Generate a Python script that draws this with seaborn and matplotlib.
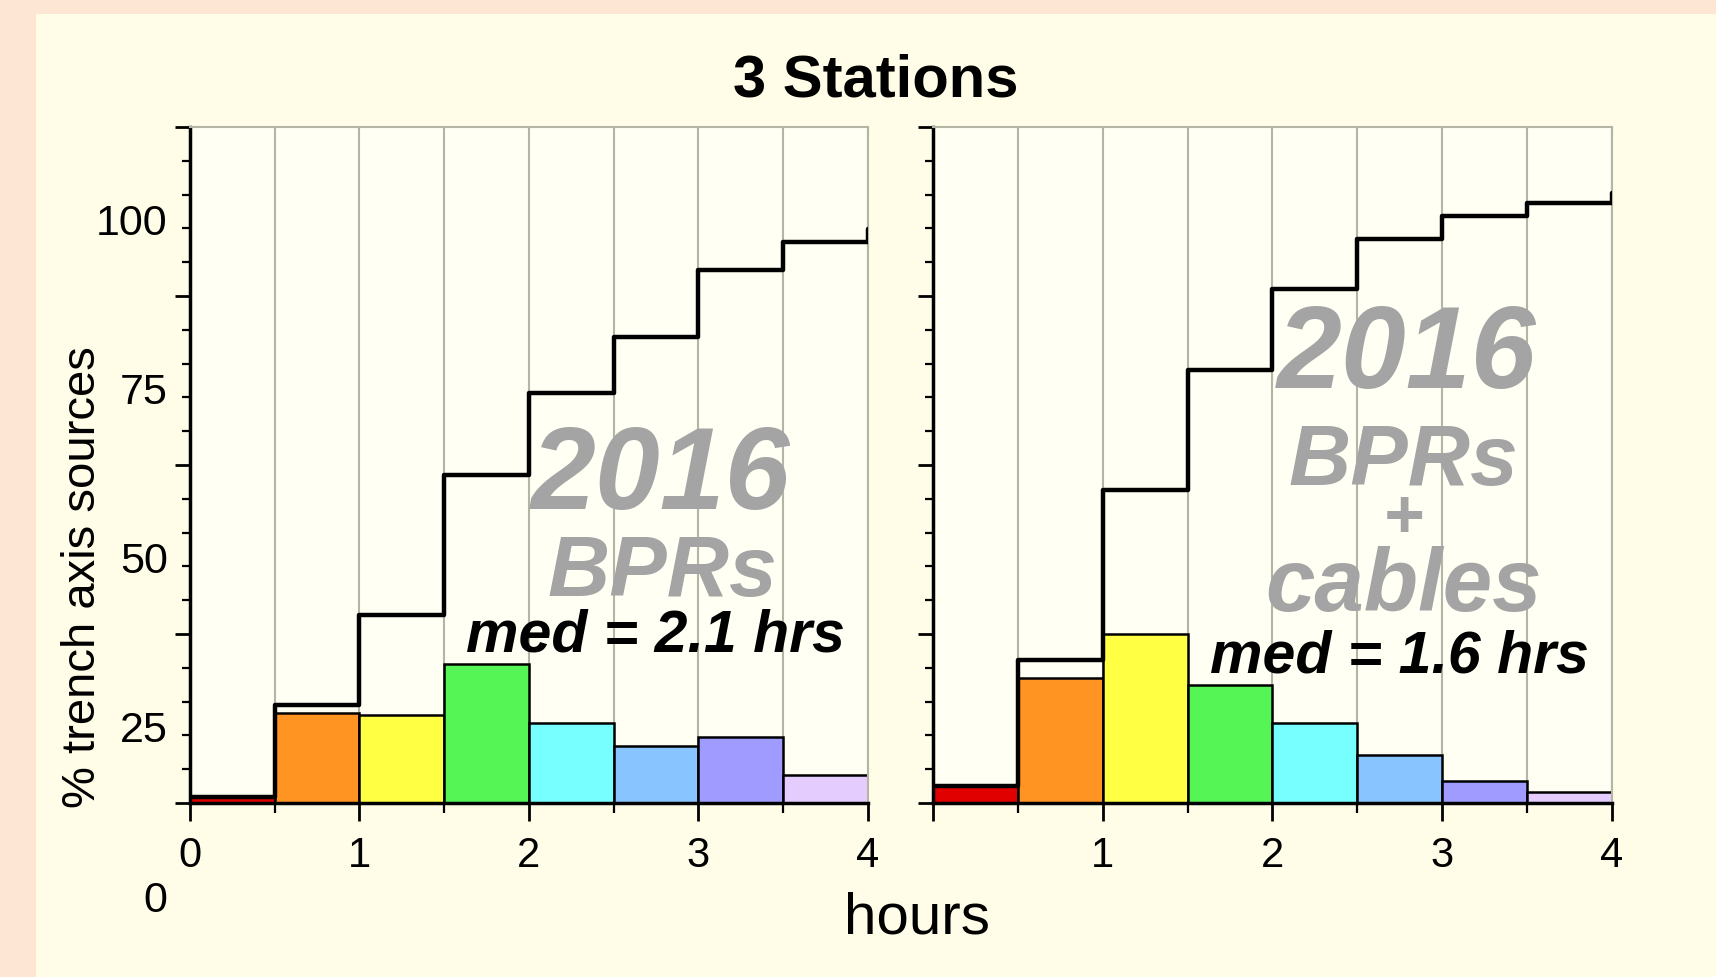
import numpy as np
import matplotlib
matplotlib.use('Agg')
import matplotlib.pyplot as plt
from matplotlib.patches import Rectangle
from matplotlib.ticker import FixedLocator, MultipleLocator, NullFormatter
import seaborn as sns

# %%
# Histogram bins (hours) and bar colours
bin_edges = [0, 0.5, 1, 1.5, 2, 2.5, 3, 3.5, 4]
bin_centers = [0.25, 0.75, 1.25, 1.75, 2.25, 2.75, 3.25, 3.75]
bar_colors = ['#e00000', '#ff9422', '#ffff44', '#55f555',
              '#77ffff', '#88c4ff', '#a09cff', '#e4ccff']

# Left panel: 2016 BPRs (values read in the y-label units)
bpr_pct = [14.5, 26.8, 26.5, 34.0, 25.4, 22.0, 23.2, 17.6]
bpr_cum = [14.4, 28.0, 41.3, 62.0, 74.1, 82.5, 92.3, 96.5, 98.4]

# Right panel: 2016 BPRs + cables
cab_pct = [16.0, 32.0, 38.5, 31.0, 25.3, 20.6, 16.7, 15.2]
cab_cum = [16.0, 34.6, 59.8, 77.6, 89.6, 96.9, 100.4, 102.3, 103.8]

step_x = [0, 0.5, 1, 1.5, 2, 2.5, 3, 3.5, 4]
ytick_vals = [25, 50, 75, 100]

# %%
sns.set_style('ticks')
plt.rcParams['font.family'] = ['Liberation Sans', 'DejaVu Sans']
plt.rcParams['text.color'] = 'black'
plt.rcParams['axes.labelcolor'] = 'black'
plt.rcParams['xtick.color'] = 'black'
plt.rcParams['ytick.color'] = 'black'

peach = '#fde6d3'
cream = '#fffde7'
axbg = '#fffff4'
gridc = '#b5b5a6'
wm_gray = '#a4a4a4'

fig = plt.figure(figsize=(17.16, 9.78), dpi=100, facecolor=peach)
fig.add_artist(Rectangle((0.021, 0), 0.979, 0.985, transform=fig.transFigure,
                         facecolor=cream, edgecolor='none', zorder=-10))

ax1 = fig.add_axes([0.1107, 0.1779, 0.395, 0.6912])
ax2 = fig.add_axes([0.5437, 0.1779, 0.3957, 0.6912])

panels = [(ax1, bpr_pct, bpr_cum), (ax2, cab_pct, cab_cum)]
for ax, pct, cum in panels:
    ax.set_facecolor(axbg)
    sns.histplot(x=bin_centers, weights=pct, bins=bin_edges, ax=ax,
                 edgecolor='black', linewidth=1.8, alpha=1, zorder=2)
    for patch, c in zip(ax.patches, bar_colors):
        patch.set_facecolor(c)
    sns.lineplot(x=step_x, y=cum, drawstyle='steps-post', color='black',
                 lw=3.2, ax=ax, zorder=4)

    ax.set_xlim(0, 4)
    ax.set_ylim(13.5, 113.5)
    ax.set_xlabel('')
    ax.set_ylabel('')
    ax.set_axisbelow(True)

    ax.xaxis.set_major_locator(MultipleLocator(1))
    ax.xaxis.set_minor_locator(MultipleLocator(0.5))
    ax.xaxis.grid(True, which='both', color=gridc, lw=1.5)
    ax.yaxis.grid(False)

    ax.yaxis.set_major_locator(FixedLocator(np.arange(13.5, 114, 25)))
    ax.yaxis.set_minor_locator(FixedLocator(np.arange(13.5, 114, 5)))
    ax.yaxis.set_major_formatter(NullFormatter())

    ax.tick_params(axis='x', which='major', length=13, width=2, labelsize=30,
                   pad=10, direction='out', color='black', labelcolor='black')
    ax.tick_params(axis='x', which='minor', length=7, width=1.6,
                   direction='out', color='black')
    ax.tick_params(axis='y', which='major', length=11, width=2,
                   direction='out', color='black')
    ax.tick_params(axis='y', which='minor', length=6, width=1.6,
                   direction='out', color='black')

    for side in ['left', 'bottom']:
        ax.spines[side].set_color('black')
        ax.spines[side].set_linewidth(2.5)
    for side in ['top', 'right']:
        ax.spines[side].set_color(gridc)
        ax.spines[side].set_linewidth(1.5)

# right panel has no "0" hour label
ax2.set_xticks([0, 1, 2, 3, 4])
ax2.set_xticklabels(['', '1', '2', '3', '4'])

# y labels on the left panel (shifted against the tick marks, as in the source)
sec = ax1.secondary_yaxis('left')
sec.set_yticks(ytick_vals)
sec.set_yticklabels([str(v) for v in ytick_vals])
sec.tick_params(length=0, labelsize=31, pad=16, labelcolor='black')
sec.spines['left'].set_visible(False)
ax1.text(-0.033, -0.8, '0', transform=ax1.get_yaxis_transform(), clip_on=False,
         ha='right', va='center', fontsize=31, color='black')

# watermark text and medians
wm = dict(color=wm_gray, fontweight='bold', fontstyle='italic', ha='center',
          va='baseline', zorder=3)
ax1.text(2.78, 57.1, '2016', fontsize=84, **wm)
ax1.text(2.79, 44.3, 'BPRs', fontsize=62, **wm)
ax1.text(2.75, 36.1, 'med = 2.1 hrs', fontsize=42.5, fontweight='bold',
         fontstyle='italic', ha='center', va='baseline', color='black', zorder=5)

ax2.text(2.79, 75.0, '2016', fontsize=84, **wm)
ax2.text(2.77, 60.7, 'BPRs', fontsize=62, **wm)
ax2.text(2.77, 53.0, '+', fontsize=50, **wm)
ax2.text(2.77, 42.1, 'cables', fontsize=64, **wm)
ax2.text(2.75, 33.0, 'med = 1.6 hrs', fontsize=42.5, fontweight='bold',
         fontstyle='italic', ha='center', va='baseline', color='black', zorder=5)

fig.text(0.5102, 0.9015, '3 Stations', fontsize=43, fontweight='bold',
         ha='center', va='baseline')
fig.text(0.5344, 0.0455, 'hours', fontsize=42, ha='center', va='baseline')
fig.text(0.0485, 0.41, '% trench axis sources', fontsize=34, rotation=90,
         ha='center', va='center')

fig.savefig('out.png', dpi=100, facecolor=fig.get_facecolor())
